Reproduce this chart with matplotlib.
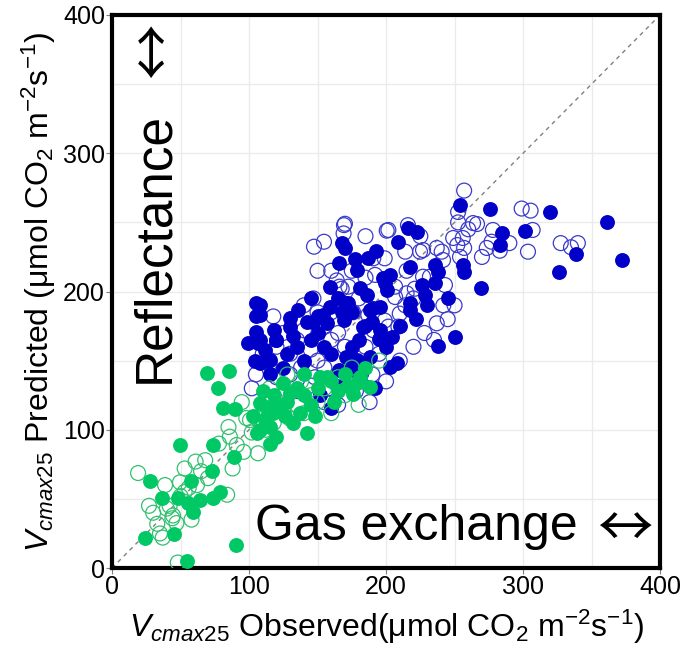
import matplotlib
matplotlib.use("Agg")
import matplotlib.pyplot as plt
import numpy as np

plt.rcParams['font.family'] = ['Liberation Sans', 'DejaVu Sans']
plt.rcParams['mathtext.fontset'] = 'custom'
plt.rcParams['mathtext.rm'] = 'Liberation Sans'
plt.rcParams['mathtext.it'] = 'Liberation Sans:italic'

# ---- data (observed, predicted) ----
# gas exchange, filled green
gf_x = [49.6, 74, 28, 36.5, 48, 58, 55.6, 64, 74, 79, 59, 73, 89, 24, 45, 90.5, 55, 106, 115,
        69, 85.5, 77, 81, 90, 181, 188, 176, 178.6, 117.7, 137, 142, 120, 115, 108, 113, 125,
        130, 152, 156.7, 108, 118, 122, 128, 135, 140, 145, 150, 160, 165, 170, 148, 132, 112,
        103, 110, 126, 140, 185, 162, 172]
gf_y = [89, 89, 63, 51, 50.6, 63, 47, 49, 50.6, 55, 40.5, 70, 80, 22, 24.6, 17, 5, 97.6, 90,
        141, 142.5, 130, 115.5, 115, 138, 131, 126, 133.6, 112, 112, 97.4, 95, 102, 119, 116.7, 133.8,
        126.6, 138, 138, 99.8, 125, 118, 120, 130, 125, 118, 130, 135, 128, 140, 110, 105, 108,
        110, 128, 110, 140, 145, 120, 132]

# gas exchange, open green
go_x = [19, 38.7, 49.6, 53, 61, 44.5, 47, 44, 35, 37, 84, 91, 96, 106.5, 85, 48, 53, 40,
        94.7, 98, 100.7, 105.6, 30, 33, 42, 50, 56, 62, 65, 68, 78, 86, 102, 110, 112, 118,
        125, 130, 135, 140, 145, 150, 155, 160, 165, 170, 175, 128, 115, 138, 180, 195,
        27, 58, 70, 88]
go_y = [68.7, 60, 62, 72, 77, 38, 32.5, 36, 25, 22, 53, 89, 84, 83, 102, 4, 55, 43,
        120, 108.5, 107, 108.5, 40, 32, 45, 52, 58, 60, 70, 78, 90, 95, 98, 112, 100, 105,
        115, 108, 118, 112, 125, 120, 130, 112, 138, 125, 145, 140, 130, 135, 118, 150,
        45, 35, 65, 72]

# reflectance, filled blue
bf_x = [105, 105, 105, 99, 106.6, 104, 114, 120, 254, 276, 320, 361, 372, 339, 326, 301.5,
        284.4, 283, 269, 250, 237.7, 256, 257, 216, 222.6, 209, 217.5, 236, 238, 236, 193, 177,
        187, 178.6, 167.7, 170, 166, 198, 203, 201, 226, 228.5, 217.5, 217.5, 181, 186, 171,
        190.5, 195, 204, 203, 208, 159, 136, 130, 130, 108, 108, 159, 154, 147, 172.5, 188,
        195.6, 199, 142, 156.7, 169, 183.4, 195.6, 108, 120, 115, 108, 127.5, 160, 171, 178.6,
        188, 166, 173.7, 164, 151.8, 160, 135, 140, 145, 150, 155, 180, 185, 175, 165, 145,
        125, 115, 182, 192, 200, 210, 222, 230, 245, 175,
        112, 118, 132, 168, 190, 150]
bf_y = [191.7, 182, 170.7, 163, 163, 150, 150, 165, 262.6, 260, 257.5, 250, 222.8, 227, 214, 244,
        242.5, 233.6, 202.5, 167, 160.8, 219, 214, 246, 243, 236, 217.7, 219, 214, 206, 229.5, 223.5,
        224, 215.5, 235, 231.5, 220.6, 210, 212, 201, 204.7, 197.5, 191.7, 186.6, 202.5, 197.5, 191.7,
        188, 165.6, 167, 145.4, 148, 203, 186.6, 180.8, 174.5, 190, 183, 189, 183, 178, 191.5, 186.6,
        189, 206, 178, 177, 179.4, 174.5, 172, 165, 165, 150.4, 148, 155, 155, 152.8, 150.4,
        152.8, 143, 143, 132, 125, 115.5, 160, 150, 165, 170, 160, 165, 175, 185, 195, 195,
        145, 140, 140, 130, 160, 175, 180, 190, 195, 160,
        158, 172, 168, 185, 178, 182]

# reflectance, open blue
bo_x = [257, 299, 305.5, 252.6, 252.6, 263.5, 266.4, 278, 307, 249, 256, 252, 257, 277, 273.5,
        270, 283, 303.6, 327.5, 335, 254, 237, 240.6, 241.6, 227, 201.7, 216, 214, 224.8, 199,
        227, 232, 243, 241.8, 237, 209, 210, 206.6, 206.6, 215, 221, 220, 214, 170, 169, 190.7,
        192, 172.5, 166, 176, 187, 199, 201.7, 190.7, 169.3, 147.4, 154.7, 200.5, 164, 167.6,
        147, 117.7, 120, 125, 130, 135, 140, 145, 150, 155, 160, 165, 170, 175, 180, 185, 190,
        195, 130, 138, 148, 158, 168, 178, 188, 115, 110, 125, 135, 145, 155, 165, 120, 200,
        210, 220, 228, 235, 245, 250, 155, 160, 150, 140, 180, 185, 175, 160, 150, 215, 260,
        290, 340, 225, 185, 105, 102]
bo_y = [273, 260, 258.5, 257.5, 250, 249.5, 248.8, 244.5, 244.5, 238.7, 238.7, 233.6, 231.5, 236, 231.5,
        225, 229.5, 228.8, 235, 232, 225, 231.5, 228.8, 222.8, 230, 244.5, 248, 228.8, 228.8, 224,
        210.7, 210.7, 204.7, 190, 177, 174.6, 184, 203.5, 196, 198.7, 202, 195, 190, 249, 242, 224,
        212, 203.5, 203.5, 185, 183, 179, 174.6, 172, 248, 232.4, 236, 244, 208, 202,
        195, 182, 160, 170, 155, 165, 172, 158, 150, 145, 165, 170, 160, 150, 145, 160, 140,
        155, 140, 145, 138, 130, 135, 128, 120, 148, 155, 125, 128, 132, 120, 118, 138, 135,
        150, 160, 170, 165, 180, 190, 175, 185, 185, 190, 195, 210, 215, 215, 215, 215, 245,
        235, 235, 240, 240, 140, 130]

blue = '#0000C8'
green = '#00C864'

fig, ax = plt.subplots(figsize=(6.89, 6.46), dpi=100)
fig.subplots_adjust(left=0.1626, right=0.958, bottom=0.1207, top=0.9768)

ax.plot([0, 400], [0, 400], linestyle=(0, (3, 3)), color='#808080', linewidth=1, zorder=1)

ax.scatter(bo_x, bo_y, s=115, facecolors='none', edgecolors='#3a3acc', linewidths=0.9, zorder=2)
ax.scatter(bf_x, bf_y, s=115, color=blue, linewidths=0, zorder=3)
ax.scatter(go_x, go_y, s=115, facecolors='none', edgecolors='#33c070', linewidths=0.9, zorder=4)
ax.scatter(gf_x, gf_y, s=115, color=green, linewidths=0, zorder=5)

ax.set_xlim(0, 400)
ax.set_ylim(0, 400)
ax.set_xticks([0, 100, 200, 300, 400])
ax.set_yticks([0, 100, 200, 300, 400])
ax.set_xticks(np.arange(50, 400, 100), minor=True)
ax.set_yticks(np.arange(50, 400, 100), minor=True)
ax.grid(True, which='both', color='#ebebeb', linewidth=1, zorder=0)
ax.set_axisbelow(True)
ax.tick_params(which='major', labelsize=18, length=4, color='#808080', pad=1)
ax.tick_params(which='minor', length=0)
for sp in ax.spines.values():
    sp.set_linewidth(3)
    sp.set_color('black')

ax.set_xlabel(r'$V_{cmax25}$ Observed(μmol CO$_2$ m$^{-2}$s$^{-1}$)', fontsize=23, labelpad=6)
ax.set_ylabel(r'$V_{cmax25}$ Predicted (μmol CO$_2$ m$^{-2}$s$^{-1}$)', fontsize=23, labelpad=4)

ax.text(0.078, 0.58, 'Reflectance', transform=ax.transAxes, rotation=90, fontsize=37,
        ha='center', va='center')
ax.text(0.078, 0.937, '↔', transform=ax.transAxes, rotation=90, fontsize=40,
        ha='center', va='center', family=['Noto Sans CJK JP', 'DejaVu Sans'])
ax.text(0.85, 0.075, 'Gas exchange', transform=ax.transAxes, fontsize=36,
        ha='right', va='center')
ax.text(0.936, 0.068, '↔', transform=ax.transAxes, fontsize=40,
        ha='center', va='center', family=['Noto Sans CJK JP', 'DejaVu Sans'])

plt.savefig('out.png', dpi=100)
plt.close(fig)
